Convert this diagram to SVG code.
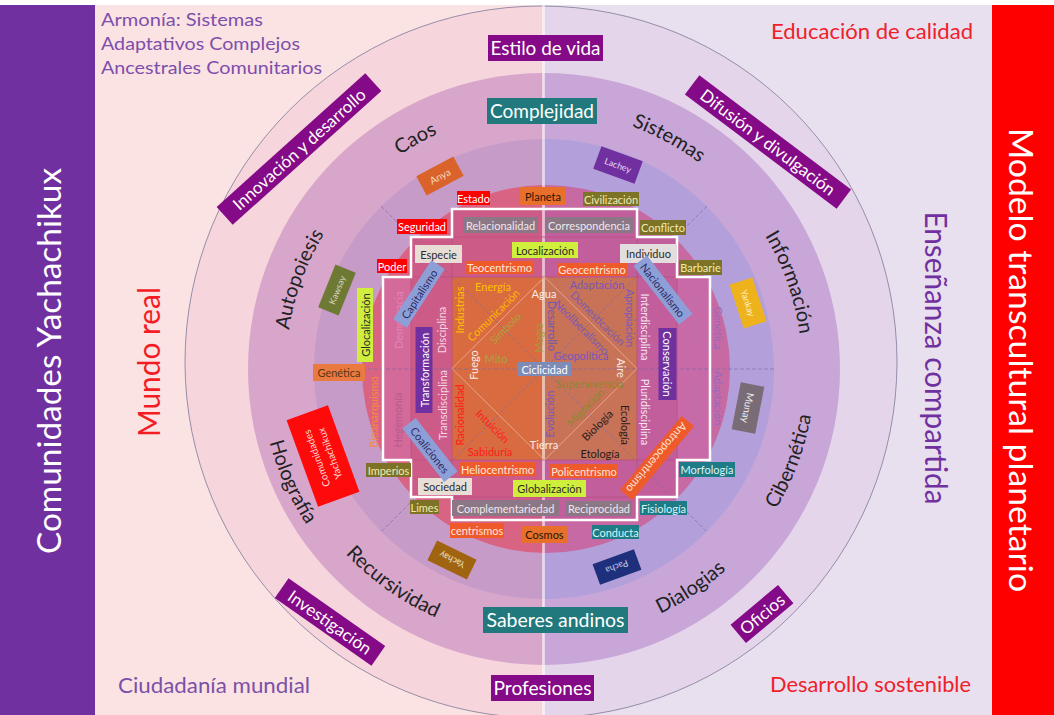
<svg xmlns="http://www.w3.org/2000/svg" width="1054" height="715" viewBox="0 0 1054 715">
<style>
text{font-family:Lato,"Liberation Sans","DejaVu Sans",sans-serif}
.c{text-anchor:middle;dominant-baseline:central}
.s{font-size:11px}
.s10{font-size:10px}
.s9{font-size:9px}
.w{fill:#ffffff}
.dk{fill:#2a2a2a}
.ol{fill:#F2EAAE}
.tl{fill:#DDF3F5}
.gy{fill:#EEE8EC}
.or{fill:#FFE6D6}
.r2{font-size:20px;fill:#222}
.big{font-size:20px;fill:#fff}
.dash{stroke:#7A68A8;stroke-width:0.8;stroke-dasharray:4 2;fill:none;opacity:0.8}
</style>
<defs>
<clipPath id="cl"><rect x="0" y="5" width="543.5" height="710"/></clipPath>
<clipPath id="cr"><rect x="543.5" y="5" width="511" height="710"/></clipPath>
<path id="cw" d="M544,111 A258,258 0 1 1 544,627 A258,258 0 1 1 544,111"/>
<path id="ccw" d="M544,640 A271,271 0 1 0 544,98 A271,271 0 1 0 544,640"/>
<path id="ccw2" d="M544,653 A284,284 0 1 0 544,85 A284,284 0 1 0 544,653"/>
<polygon id="chak" points="452,209 637,209 637,237 677,237 677,277 710,277 710,460 677,460 677,497 637,497 637,520 452,520 452,497 411,497 411,460 383,460 383,277 411,277 411,237 452,237"/>
</defs>
<rect x="0" y="0" width="1054" height="715" fill="#ffffff"/>
<g id="left-half" clip-path="url(#cl)">
<rect x="95" y="5" width="450" height="710" fill="#FBE2E3"/>
<circle cx="541" cy="362" r="356" fill="#F6D5DD"/>
<circle cx="544" cy="369" r="296" fill="#D8A6CA"/>
<circle cx="544" cy="369" r="230" fill="#C69BC8"/>
<circle cx="546" cy="369" r="184" fill="#D96382"/>
<use href="#chak" fill="#CD5B88"/>
<rect x="383" y="277" width="28" height="183" fill="#D46A9A"/>
<rect x="452" y="277" width="185" height="183" fill="#D86B40"/>
</g>
<g id="right-half" clip-path="url(#cr)">
<rect x="543" y="5" width="449" height="710" fill="#E8E0EE"/>
<circle cx="541" cy="362" r="356" fill="#E4D5EA"/>
<circle cx="544" cy="369" r="296" fill="#C8A6D7"/>
<circle cx="544" cy="369" r="230" fill="#B3A0DA"/>
<circle cx="546" cy="369" r="184" fill="#C76AA3"/>
<use href="#chak" fill="#C35E9C"/>
<rect x="677" y="277" width="33" height="183" fill="#C86AA8"/>
<rect x="452" y="277" width="185" height="183" fill="#C87257"/>
</g>
<rect x="0" y="5" width="95" height="710" fill="#7030A0"/>
<rect x="992" y="5" width="62" height="710" fill="#FF0000"/>
<circle cx="541" cy="362" r="356" fill="none" stroke="#7E7A98" stroke-width="0.8"/>

<g id="connectors">
<line x1="543.5" y1="5" x2="543.5" y2="715" stroke="#ffffff" stroke-width="3" opacity="0.55"/>
<line x1="314" y1="369" x2="774" y2="369" class="dash"/>
<line x1="381" y1="206" x2="707" y2="532" class="dash"/>
<line x1="707" y1="206" x2="381" y2="532" class="dash"/>
<line x1="411" y1="237" x2="677" y2="237" stroke="#B84E80" stroke-width="0.8"/>
<line x1="411" y1="497" x2="677" y2="497" stroke="#B84E80" stroke-width="0.8"/>
<line x1="411" y1="237" x2="411" y2="497" stroke="#B84E80" stroke-width="0.8"/>
<line x1="677" y1="237" x2="677" y2="497" stroke="#B84E80" stroke-width="0.8"/>
<line x1="452" y1="209" x2="452" y2="520" stroke="#B84E80" stroke-width="0.8"/>
<line x1="637" y1="209" x2="637" y2="520" stroke="#B84E80" stroke-width="0.8"/>
<line x1="383" y1="277" x2="710" y2="277" stroke="#B84E80" stroke-width="0.8"/>
<line x1="383" y1="460" x2="710" y2="460" stroke="#B84E80" stroke-width="0.8"/>
<path d="M544.5,277 L637,368.5 L544.5,460 L452,368.5 Z" fill="none" stroke="#E9A58A" stroke-width="1"/>
<use href="#chak" fill="none" stroke="#FFFFFF" stroke-width="2.5"/>
</g>

<g id="titles">
<text transform="translate(61,361) rotate(-90)" text-anchor="middle" font-size="33" fill="#fff" textLength="386" lengthAdjust="spacingAndGlyphs">Comunidades Yachachikux</text>
<text transform="translate(1009,360) rotate(90)" text-anchor="middle" font-size="33" fill="#fff" textLength="464" lengthAdjust="spacingAndGlyphs">Modelo transcultural planetario</text>
<text x="101" y="26" font-size="18" fill="#7D4FAB" textLength="162" lengthAdjust="spacingAndGlyphs">Armonía: Sistemas</text>
<text x="101" y="50" font-size="18" fill="#7D4FAB" textLength="199" lengthAdjust="spacingAndGlyphs">Adaptativos Complejos</text>
<text x="101" y="74" font-size="18" fill="#7D4FAB" textLength="221" lengthAdjust="spacingAndGlyphs">Ancestrales Comunitarios</text>
<text x="771" y="39" font-size="22" fill="#F0202A" textLength="202" lengthAdjust="spacingAndGlyphs">Educación de calidad</text>
<text x="770" y="692" font-size="22" fill="#F0202A" textLength="201" lengthAdjust="spacingAndGlyphs">Desarrollo sostenible</text>
<text x="118" y="693" font-size="22" fill="#7A50A8" textLength="192" lengthAdjust="spacingAndGlyphs">Ciudadanía mundial</text>
<text transform="translate(160,362) rotate(-90)" text-anchor="middle" font-size="31" fill="#F41C24" textLength="150" lengthAdjust="spacingAndGlyphs">Mundo real</text>
<text transform="translate(925,358) rotate(90)" text-anchor="middle" font-size="31" fill="#7030A0" textLength="293" lengthAdjust="spacingAndGlyphs">Enseñanza compartida</text>
</g>

<g id="outer-band">
<g id="n-estilo"><rect x="488" y="35" width="115" height="26" fill="#850A87"/><text x="545.5" y="55" text-anchor="middle" class="big" textLength="110" lengthAdjust="spacingAndGlyphs">Estilo de vida</text></g>
<g id="n-profesiones"><rect x="491" y="675" width="103" height="26" fill="#850A87"/><text x="542.5" y="695" text-anchor="middle" class="big" textLength="98" lengthAdjust="spacingAndGlyphs">Profesiones</text></g>
<g id="n-innovacion" transform="translate(299,149) rotate(-42)"><rect x="-100" y="-12" width="200" height="24" fill="#850A87"/><text class="c" font-size="17" fill="#fff">Innovación y desarrollo</text></g>
<g id="n-difusion" transform="translate(768,142) rotate(37)"><rect x="-95" y="-12" width="190" height="24" fill="#850A87"/><text class="c" font-size="17" fill="#fff">Difusión y divulgación</text></g>
<g id="n-investigacion" transform="translate(330,622) rotate(35)"><rect x="-59" y="-12" width="118" height="24" fill="#850A87"/><text class="c" font-size="17" fill="#fff">Investigación</text></g>
<g id="n-oficios" transform="translate(762,614) rotate(-40)"><rect x="-31" y="-12" width="62" height="24" fill="#850A87"/><text class="c" font-size="17" fill="#fff">Oficios</text></g>
</g>

<g id="ring2">
<g id="n-complejidad"><rect x="487" y="98" width="110" height="26" fill="#22797D"/><text x="542" y="118" text-anchor="middle" class="big" textLength="104" lengthAdjust="spacingAndGlyphs">Complejidad</text></g>
<g id="n-saberes"><rect x="483" y="607" width="145" height="26" fill="#22797D"/><text x="555.5" y="627" text-anchor="middle" class="big" textLength="138" lengthAdjust="spacingAndGlyphs">Saberes andinos</text></g>
<text id="n-caos" class="r2" text-anchor="middle"><textPath href="#cw" startOffset="91.9%">Caos</textPath></text>
<text id="n-sistemas" class="r2" text-anchor="middle"><textPath href="#cw" startOffset="7.9%">Sistemas</textPath></text>
<text id="n-autopoiesis" class="r2" text-anchor="middle"><textPath href="#cw" startOffset="80.6%">Autopoiesis</textPath></text>
<text id="n-informacion" class="r2" text-anchor="middle"><textPath href="#cw" startOffset="19.6%">Información</textPath></text>
<text id="n-recursividad" class="r2" text-anchor="middle"><textPath href="#ccw" startOffset="90.2%">Recursividad</textPath></text>
<text id="n-dialogias" class="r2" text-anchor="middle"><textPath href="#ccw" startOffset="9.4%">Dialogias</textPath></text>
<text id="n-cibernetica" class="r2" text-anchor="middle"><textPath href="#ccw" startOffset="19.3%">Cibernética</textPath></text>
<text id="n-holografia" class="r2" text-anchor="middle"><textPath href="#ccw2" startOffset="81.7%">Holografía</textPath></text>
</g>

<g id="ring3">
<g id="n-anya" transform="translate(440,176) rotate(-28)"><rect x="-21" y="-11" width="42" height="22" fill="#D9632A"/><text class="c s10" fill="#F6D3B8">Anya</text></g>
<g id="n-lachey" transform="translate(618,165) rotate(20)"><rect x="-22" y="-12" width="44" height="24" fill="#7030A0"/><text class="c s9" fill="#E8D8F0">Lachey</text></g>
<g id="n-kawsay" transform="translate(337,290) rotate(-68)"><rect x="-23" y="-11" width="46" height="22" fill="#6E7A34"/><text class="c s9" fill="#D8D8C0">Kawsay</text></g>
<g id="n-yankay" transform="translate(748,303) rotate(72)"><rect x="-23" y="-12" width="46" height="24" fill="#EDB21C"/><text class="c s9" fill="#FFF0C0">Yankay</text></g>
<g id="n-munay" transform="translate(748,408) rotate(101)"><rect x="-24" y="-12" width="48" height="24" fill="#7A6C76"/><text class="c s10" fill="#F0F0F0">Munay</text></g>
<g id="n-comunidades" transform="translate(323,456) rotate(250)"><rect x="-46" y="-22" width="92" height="44" fill="#FF0A0A"/><text class="c s10" y="-7" fill="#FFD8D8">Comunidades</text><text class="c s10" y="7" fill="#FFD8D8">Yachachikux</text></g>
<g id="n-yachay" transform="translate(452,560) rotate(206)"><rect x="-22" y="-11" width="44" height="22" fill="#A06410"/><text class="c s9" fill="#F0E0C0">Yachay</text></g>
<g id="n-pacha" transform="translate(617,567) rotate(160)"><rect x="-22" y="-11" width="44" height="22" fill="#1E2F7C"/><text class="c s9" fill="#C8D0F0">Pacha</text></g>
</g>

<g id="ring4">
<g id="n-estado"><rect x="457" y="191" width="33" height="14" fill="#FF0000"/><text x="473.5" y="198" class="c s w">Estado</text></g>
<g id="n-planeta"><rect x="520" y="187" width="46" height="18" fill="#E9702B"/><text x="543" y="196" class="c s" fill="#2a1500">Planeta</text></g>
<g id="n-civilizacion"><rect x="583" y="192" width="56" height="14" fill="#7D7326"/><text x="611" y="199" class="c s ol">Civilización</text></g>
<g id="n-seguridad"><rect x="397" y="219" width="50" height="15" fill="#FF0000"/><text x="422" y="226.5" class="c s w">Seguridad</text></g>
<g id="n-conflicto"><rect x="640" y="220" width="46" height="15" fill="#7D7326"/><text x="663" y="227.5" class="c s ol">Conflicto</text></g>
<g id="n-poder"><rect x="377" y="259" width="30" height="14" fill="#FF0000"/><text x="392" y="266" class="c s w">Poder</text></g>
<g id="n-barbarie"><rect x="679" y="260" width="43" height="15" fill="#7D7326"/><text x="700.5" y="267.5" class="c s ol">Barbarie</text></g>
<g id="n-glocalizacion" transform="translate(365,325) rotate(-90)"><rect x="-37" y="-8" width="74" height="16" fill="#CFEF3C"/><text class="c s dk">Glocalización</text></g>
<g id="n-genetica"><rect x="313" y="364" width="52" height="17" fill="#EA7A40"/><text x="339" y="372.5" class="c s" fill="#5c3512">Genética</text></g>
<g id="n-imperios"><rect x="366" y="463" width="45" height="14" fill="#7D7326"/><text x="388.5" y="470" class="c s ol">Imperios</text></g>
<g id="n-limes"><rect x="410" y="500" width="29" height="14" fill="#7D7326"/><text x="424.5" y="507" class="c s ol">Limes</text></g>
<g id="n-morfologia"><rect x="679" y="462" width="56" height="15" fill="#1D7C86"/><text x="707" y="469.5" class="c s tl">Morfología</text></g>
<g id="n-fisiologia"><rect x="640" y="501" width="47" height="14" fill="#1D7C86"/><text x="663.5" y="508" class="c s tl">Fisiología</text></g>
<g id="n-centrismos"><rect x="450" y="523" width="54" height="15" fill="#EE5A2A"/><text x="477" y="530.5" class="c s or">centrismos</text></g>
<g id="n-cosmos"><rect x="522" y="526" width="45" height="17" fill="#E9702B"/><text x="544.5" y="534.5" class="c s" fill="#2a1500">Cosmos</text></g>
<g id="n-conducta"><rect x="592" y="525" width="47" height="14" fill="#1D7C86"/><text x="615.5" y="532" class="c s tl">Conducta</text></g>
<text transform="translate(398,320) rotate(-90)" class="c s" fill="#E285B6">Democracia</text>
<text transform="translate(397,420) rotate(-90)" class="c s" fill="#B85A8E">Hegemonía</text>
<text transform="translate(373,412) rotate(-90)" class="c s" fill="#FA8A3C">Bioanarquismo</text>
<text transform="translate(696,320) rotate(90)" class="c s" fill="#C070A8">Compresión</text>
<text transform="translate(697,408) rotate(90)" class="c s" fill="#C070A8">Conocimiento</text>
<text transform="translate(718,328) rotate(90)" class="c s" fill="#9868C0">Genética</text>
<text transform="translate(718,398) rotate(90)" class="c s" fill="#9868C0">Adaptación</text>
</g>

<g id="chakana">
<g id="n-relacionalidad"><rect x="463" y="217" width="75" height="16" fill="#8C7786"/><text x="500.5" y="225" class="c s gy">Relacionalidad</text></g>
<g id="n-correspondencia"><rect x="545" y="217" width="88" height="16" fill="#8C7786"/><text x="589" y="225" class="c s gy">Correspondencia</text></g>
<g id="n-especie"><rect x="415" y="245" width="47" height="18" fill="#E9DED6"/><text x="438.5" y="254" class="c s dk">Especie</text></g>
<g id="n-localizacion"><rect x="512" y="242" width="66" height="16" fill="#CFEF3C"/><text x="545" y="250" class="c s dk">Localización</text></g>
<g id="n-individuo"><rect x="620" y="244" width="57" height="19" fill="#E2DEDF"/><text x="648.5" y="253.5" class="c s dk">Individuo</text></g>
<g id="n-teocentrismo"><rect x="466" y="261" width="67" height="13" fill="#EE5A2A"/><text x="499.5" y="267.5" class="c s or">Teocentrismo</text></g>
<g id="n-geocentrismo"><rect x="557" y="263" width="70" height="13" fill="#EE5A2A"/><text x="592" y="269.5" class="c s or">Geocentrismo</text></g>
<g id="n-heliocentrismo"><rect x="460" y="462" width="75" height="14" fill="#EE5A2A"/><text x="497.5" y="469" class="c s or">Heliocentrismo</text></g>
<g id="n-policentrismo"><rect x="550" y="464" width="68" height="14" fill="#EE5A2A"/><text x="584" y="471" class="c s or">Policentrismo</text></g>
<g id="n-sociedad"><rect x="418" y="478" width="54" height="17" fill="#E9DED6"/><text x="445" y="486.5" class="c s dk">Sociedad</text></g>
<g id="n-globalizacion"><rect x="513" y="480" width="73" height="17" fill="#CFEF3C"/><text x="549.5" y="488.5" class="c s dk">Globalización</text></g>
<g id="n-complementariedad"><rect x="452" y="500" width="107" height="16" fill="#8C7786"/><text x="505.5" y="508" class="c s gy">Complementariedad</text></g>
<g id="n-reciprocidad"><rect x="566" y="501" width="66" height="15" fill="#8C7786"/><text x="599" y="508.5" class="c s gy">Reciprocidad</text></g>
<g id="n-transformacion" transform="translate(424,370) rotate(-90)"><rect x="-43" y="-8.5" width="86" height="17" fill="#7030A0"/><text class="c s w">Transformación</text></g>
<g id="n-conservacion" transform="translate(667.5,364) rotate(90)"><rect x="-36" y="-9" width="72" height="18" fill="#7030A0"/><text class="c s w">Conservación</text></g>
<g id="n-capitalismo" transform="translate(419,294) rotate(-57)"><rect x="-35" y="-8" width="70" height="16" fill="#8E9FD8"/><text class="c s" fill="#2a2a60">Capitalismo</text></g>
<g id="n-nacionalismo" transform="translate(663,290) rotate(52)"><rect x="-37" y="-8.5" width="74" height="17" fill="#8E9FD8"/><text class="c s" fill="#2a2a60">Nacionalismo</text></g>
<g id="n-coaliciones" transform="translate(430,450) rotate(52)"><rect x="-34" y="-8.5" width="68" height="17" fill="#8E9FD8"/><text class="c s" fill="#2a2a60">Coaliciones</text></g>
<g id="n-antropocentrismo" transform="translate(657,458) rotate(130)"><rect x="-48" y="-8" width="96" height="16" fill="#EE5A2A"/><text class="c s or">Antropocentrismo</text></g>
<text transform="translate(459,310) rotate(-90)" class="c s" fill="#FFC000">Industrias</text>
<text transform="translate(441,330) rotate(-90)" class="c s" fill="#F5D5E5">Disciplina</text>
<text transform="translate(442,405) rotate(-90)" class="c s" fill="#F5D5E5">Transdisciplina</text>
<text transform="translate(459,415) rotate(-90)" class="c s" fill="#FF1A1A">Racionalidad</text>
<text transform="translate(645,327) rotate(90)" class="c s" fill="#F5E5F0">Interdisciplina</text>
<text transform="translate(645,412) rotate(90)" class="c s" fill="#F5E5F0">Pluridisciplina</text>
<text transform="translate(630,318) rotate(90)" class="c s" fill="#7A5AB8">Apropiación</text>
</g>

<g id="center">
<g id="n-ciclicidad"><rect x="518" y="362" width="53" height="14" fill="#7F8BB7"/><text x="544.5" y="369" class="c s w">Ciclicidad</text></g>
<text x="493" y="286" class="c s" fill="#FFC000">Energía</text>
<text x="597" y="284" class="c s" fill="#7858B8">Adaptación</text>
<text x="544" y="293" class="c s" fill="#F8ECE4">Agua</text>
<text transform="translate(493,315) rotate(-45)" class="c s" fill="#FFB800">Comunicación</text>
<text transform="translate(505,328) rotate(-45)" class="c s" fill="#B0A040">Símbolo</text>
<text transform="translate(598,318) rotate(45)" class="c s" fill="#7858B8">Domesticación</text>
<text transform="translate(582,327) rotate(45)" class="c s" fill="#7858B8">Neoliberalismo</text>
<text transform="translate(552,326) rotate(90)" class="c s" fill="#7058B0">Desarrollo</text>
<text transform="translate(538,338) rotate(-90)" class="c s" fill="#A89A40">Magia</text>
<text x="581" y="355" class="c s" fill="#7858B8">Geopolítica</text>
<text x="496" y="358" class="c s" fill="#B0A040">Mito</text>
<text transform="translate(473,365) rotate(-90)" class="c s" fill="#F8ECE4">Fuego</text>
<text transform="translate(621,368) rotate(90)" class="c s" fill="#F8ECE4">Aire</text>
<text x="590" y="383" class="c s" fill="#8A8A30">Supervivencia</text>
<text transform="translate(585,407) rotate(-45)" class="c s" fill="#8A8A30">Migración</text>
<text transform="translate(597,425) rotate(-45)" class="c s" fill="#2a1a1a">Biología</text>
<text transform="translate(549,414) rotate(-90)" class="c s" fill="#7858B8">Evolución</text>
<text transform="translate(625,425) rotate(90)" class="c s" fill="#2a1a1a">Ecología</text>
<text transform="translate(493,426) rotate(45)" class="c s" fill="#FF1A1A">Intuición</text>
<text x="490" y="451" class="c s" fill="#FF1A1A">Sabiduría</text>
<text x="544" y="444" class="c s" fill="#F8ECE4">Tierra</text>
<text x="600" y="453" class="c s" fill="#2a1a1a">Etología</text>
</g>
</svg>
